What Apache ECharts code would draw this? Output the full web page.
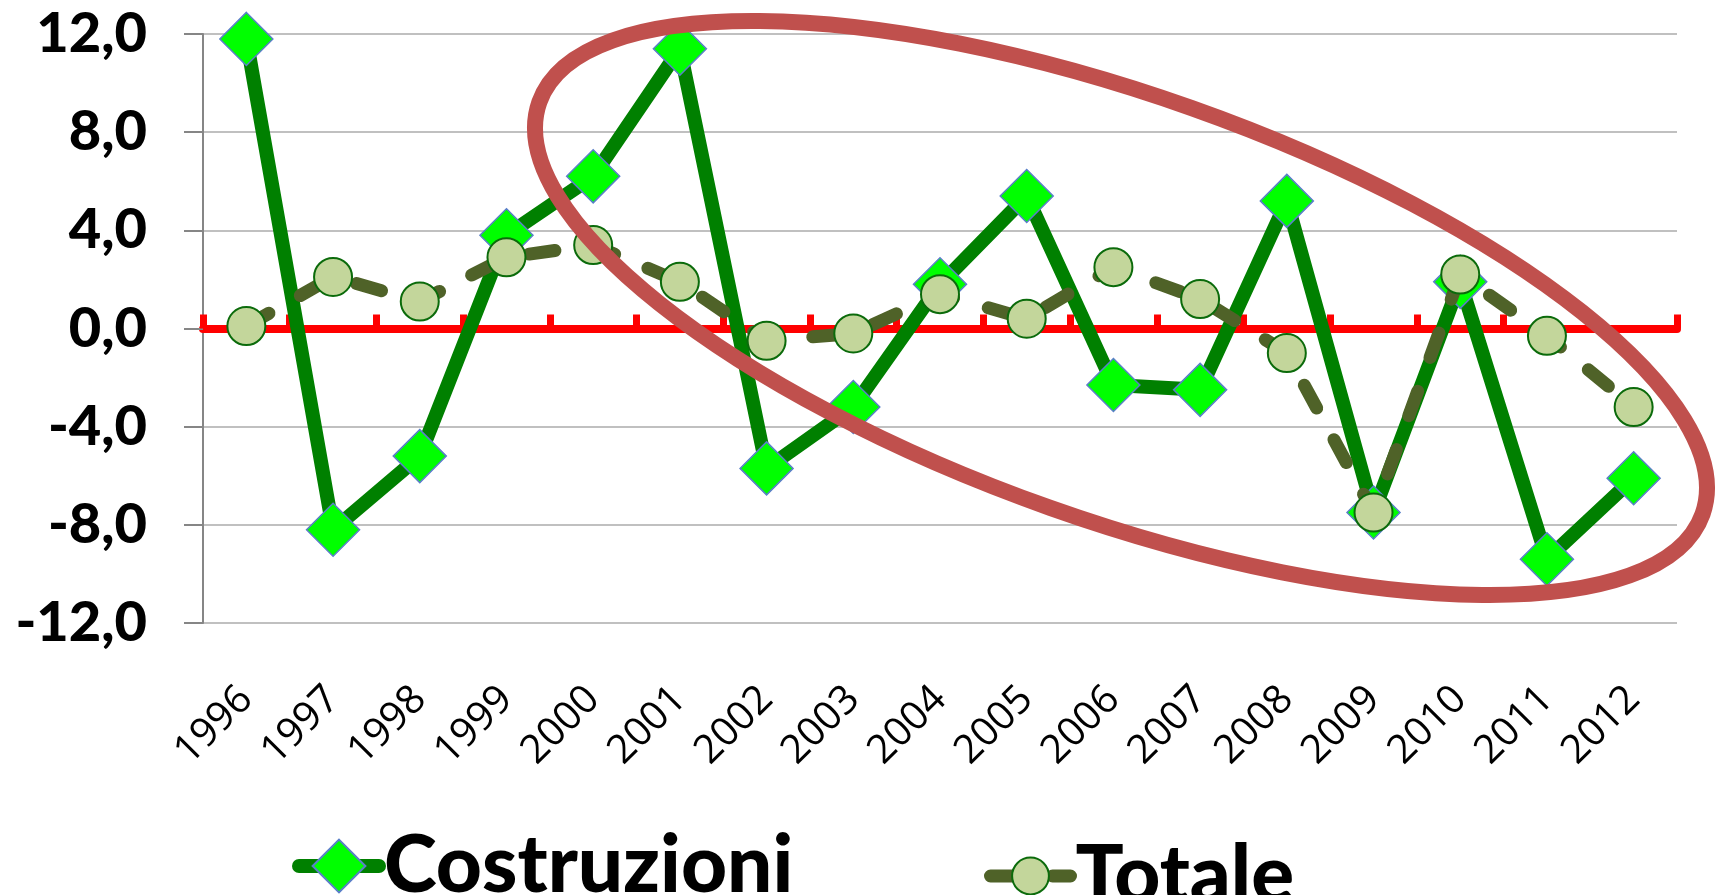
<!DOCTYPE html>
<html>
<head>
<meta charset="utf-8">
<script src="https://cdn.jsdelivr.net/npm/echarts@6/dist/echarts.min.js"></script>
<style>
html,body{margin:0;padding:0;background:#fff;}
#main{width:1719px;height:895px;}
</style>
</head>
<body>
<div id="main"></div>
<script>
var years = ['1996','1997','1998','1999','2000','2001','2002','2003','2004','2005','2006','2007','2008','2009','2010','2011','2012'];
var costruzioni = [11.8, -8.2, -5.2, 3.8, 6.2, 11.4, -5.7, -3.2, 1.8, 5.4, -2.3, -2.5, 5.2, -7.5, 1.9, -9.4, -6.1];
var totale = [0.1, 2.1, 1.1, 2.9, 3.4, 1.9, -0.5, -0.2, 1.4, 0.4, 2.5, 1.2, -1.0, -7.5, 2.2, -0.3, -3.2];
var yTicks = [-12, -8, -4, 0, 4, 8, 12];

var bigFont = '"Lato Black", "Lato Heavy", Lato, Roboto, sans-serif';
var legendText = {fontFamily:bigFont, fontWeight:900, fontSize:80, color:'#000'};

var chart = echarts.init(document.getElementById('main'));

var option = {
	backgroundColor:'#fff',
	animation:false,
	grid:{left:203, right:42, top:34, bottom:272},
	// two legends so each icon keeps its own marker size
	legend:[
	{
		left:287,
		top:821,
		itemWidth:80,
		itemHeight:66,
		textStyle:legendText,
		lineStyle:{width:14, cap:'round'},
		data:['Costruzioni']
	},
	{
		left:979,
		top:831,
		itemWidth:80,
		itemHeight:46,
		textStyle:legendText,
		lineStyle:{width:13, cap:'round'},
		data:['Totale']
	}
	],
	xAxis:[
	{
		type:'category',
		data:years,
		position:'bottom',
		boundaryGap:true,
		axisLine:{show:false, onZero:false},
		axisTick:{show:false},
		axisLabel:{
			interval:0,
			rotate:45,
			margin:70,
			fontFamily:'"Open Sans", sans-serif',
			fontSize:40,
			color:'#000'
		}
	},
	{
		type:'category',
		data:years,
		boundaryGap:true,
		axisLine:{onZero:true, lineStyle:{color:'#ff0000', width:8}},
		axisTick:{show:true, interval:0, length:14, lineStyle:{color:'#ff0000', width:7}},
		axisLabel:{show:false},
		splitLine:{show:false}
	}
	],
	yAxis:{
		type:'value',
		min:yTicks[0],
		max:yTicks[yTicks.length-1],
		interval:4,
		axisLine:{show:true, onZero:false, lineStyle:{color:'#868686', width:2}},
		axisTick:{show:true, inside:false, length:19, lineStyle:{color:'#868686', width:2}},
		splitLine:{lineStyle:{color:'#c0c0c0', width:2}},
		axisLabel:{
			margin:56,
			fontFamily:bigFont,
			fontWeight:900,
			fontSize:56,
			color:'#000',
			formatter:function(v){ return v.toFixed(1).replace('.', ','); }
		}
	},
	series:[
	{
		name:'Costruzioni',
		type:'line',
		data:costruzioni,
		z:3,
		symbol:'diamond',
		symbolSize:53,
		lineStyle:{color:'#008000', width:14},
		itemStyle:{color:'#00ff00', borderColor:'#5a7fc8', borderWidth:1.5}
	},
	{
		name:'Totale',
		type:'line',
		data:totale,
		z:4,
		symbol:'circle',
		symbolSize:38,
		lineStyle:{color:'#4f6228', width:13, type:[26,36], cap:'round'},
		itemStyle:{color:'#c3d69b', borderColor:'#0b6b0b', borderWidth:2}
	}
	],
	graphic:[
	{
		// the hand drawn ring round 2000-2012
		type:'ellipse',
		x:1121,
		y:308,
		rotation:-19.5*Math.PI/180,
		shape:{cx:0, cy:0, rx:617, ry:212},
		style:{fill:null, stroke:'#c0504d', lineWidth:16},
		z:100
	}
	]
};

chart.setOption(option);
</script>
</body>
</html>
